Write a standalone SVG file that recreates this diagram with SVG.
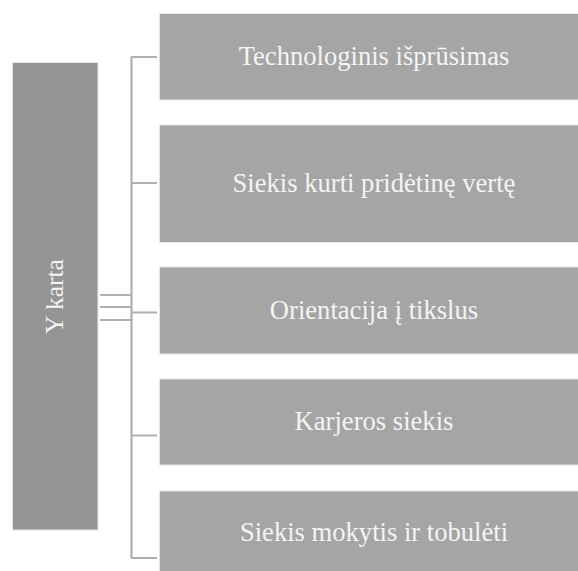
<svg xmlns="http://www.w3.org/2000/svg" width="578" height="571" viewBox="0 0 578 571">
<style>
.root{fill:#959595;stroke:#e6e6e6;stroke-width:1}
.box{fill:#a5a5a5;stroke:#e6e6e6;stroke-width:1}
.t{font-family:"Liberation Serif","Times New Roman",serif;font-size:26.6px;fill:#f4f4f4;text-anchor:middle}
.c{stroke:#b0b0b0;stroke-width:2.2;fill:none}
</style>
<rect width="578" height="571" fill="#ffffff"/>
<g id="connectors">
<path class="c" d="M131.5,56.5 V558.5"/>
<path class="c" d="M131.5,57 H157 M131.5,183 H157 M131.5,312.5 H157 M131.5,435.5 H157 M131.5,558 H157"/>
<path class="c" d="M100,295 H131.5 M100,307 H131.5 M100,320 H131.5"/>
</g>
<g id="root">
<rect class="root" x="12.5" y="62.5" width="85.5" height="467.5"/>
<text class="t" x="0" y="0" style="font-size:25.5px" transform="translate(63,296.5) rotate(-90)">Y karta</text>
</g>
<g id="n1">
<rect class="box" x="159.5" y="13.5" width="420" height="86.5"/>
<text class="t" x="374" y="64.5">Technologinis išprūsimas</text>
</g>
<g id="n2">
<rect class="box" x="159.5" y="125" width="420" height="117.5"/>
<text class="t" x="374" y="192">Siekis kurti pridėtinę vertę</text>
</g>
<g id="n3">
<rect class="box" x="159.5" y="267" width="420" height="87"/>
<text class="t" x="374" y="318.5">Orientacija į tikslus</text>
</g>
<g id="n4">
<rect class="box" x="159.5" y="379" width="420" height="86"/>
<text class="t" x="374" y="430">Karjeros siekis</text>
</g>
<g id="n5">
<rect class="box" x="159.5" y="491" width="420" height="85"/>
<text class="t" x="374" y="541">Siekis mokytis ir tobulėti</text>
</g>
</svg>
